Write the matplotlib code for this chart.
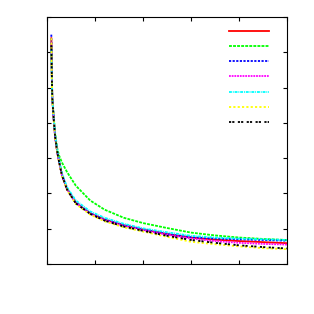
import matplotlib as mpl

mpl.use("Agg")
import matplotlib.pyplot as plt

x = [0.09, 0.1, 0.11, 0.14, 0.17, 0.21, 0.25, 0.31, 0.42, 0.6, 0.9, 1.2,
     1.6, 2.0, 2.5, 3.0, 3.5, 4.0, 4.5, 5.0]

y_red = [6.4, 5.4, 4.7, 4.1, 3.6, 3.2, 2.92, 2.53, 2.12, 1.74, 1.44, 1.26,
         1.1, 0.98, 0.85, 0.75, 0.69, 0.65, 0.62, 0.59]
y_green = [6.3, 5.4, 4.75, 4.2, 3.7, 3.3, 3.08, 2.88, 2.6, 2.22, 1.8, 1.54,
           1.31, 1.16, 1.02, 0.89, 0.81, 0.75, 0.71, 0.68]
y_blue = [6.5, 5.5, 4.7, 4.1, 3.6, 3.2, 2.92, 2.53, 2.12, 1.74, 1.44, 1.26,
          1.1, 0.98, 0.85, 0.76, 0.72, 0.7, 0.68, 0.66]
y_magenta = [6.3, 5.4, 4.7, 4.1, 3.6, 3.2, 2.91, 2.52, 2.11, 1.73, 1.43, 1.24,
             1.08, 0.96, 0.83, 0.72, 0.65, 0.6, 0.57, 0.55]
y_cyan = [6.1, 5.3, 4.7, 4.12, 3.65, 3.25, 2.96, 2.58, 2.17, 1.8, 1.49, 1.31,
          1.14, 1.01, 0.9, 0.8, 0.75, 0.72, 0.7, 0.68]
y_yellow = [6.4, 5.3, 4.65, 4.07, 3.57, 3.17, 2.89, 2.5, 2.09, 1.7, 1.4, 1.21,
            1.04, 0.92, 0.77, 0.63, 0.56, 0.5, 0.45, 0.42]
y_black = [6.2, 5.4, 4.7, 4.1, 3.6, 3.2, 2.91, 2.52, 2.1, 1.72, 1.42, 1.23,
           1.06, 0.94, 0.8, 0.68, 0.6, 0.53, 0.48, 0.44]

series = [
    (y_red, "#ff0000", "-"),
    (y_green, "#00ff00", (0, (1.6, 0.65))),
    (y_blue, "#0000ff", (0, (1.2, 0.8))),
    (y_magenta, "#ff00ff", (0, (1.0, 0.5))),
    (y_cyan, "#00ffff", (0, (1.6, 0.5, 0.5, 0.5))),
    (y_yellow, "#ffff00", (0, (1.2, 1.2))),
    (y_black, "#000000", (0, (1.2, 0.6, 1.2, 1.9))),
]

fig = plt.figure(figsize=(3.14, 3.14), dpi=100)
ax = fig.add_axes([47 / 314, 50 / 314, 240 / 314, 247 / 314])
handles = []
for y, c, ls in series:
    (h,) = ax.plot(x, y, color=c, ls=ls, lw=1.3)
    handles.append(h)

ax.set_xlim(0, 5)
ax.set_ylim(0, 7)
ax.set_xticks(range(0, 6))
ax.set_yticks(range(0, 8))
ax.tick_params(direction="in", top=True, right=True, length=3,
               labelbottom=False, labelleft=False)
ax.legend(handles, [""] * len(handles), loc="upper right",
          bbox_to_anchor=(0.966, 1.0), frameon=False, fontsize=8,
          handlelength=3.6, labelspacing=0.46, handletextpad=0)

fig.savefig("out.png", dpi=100)
